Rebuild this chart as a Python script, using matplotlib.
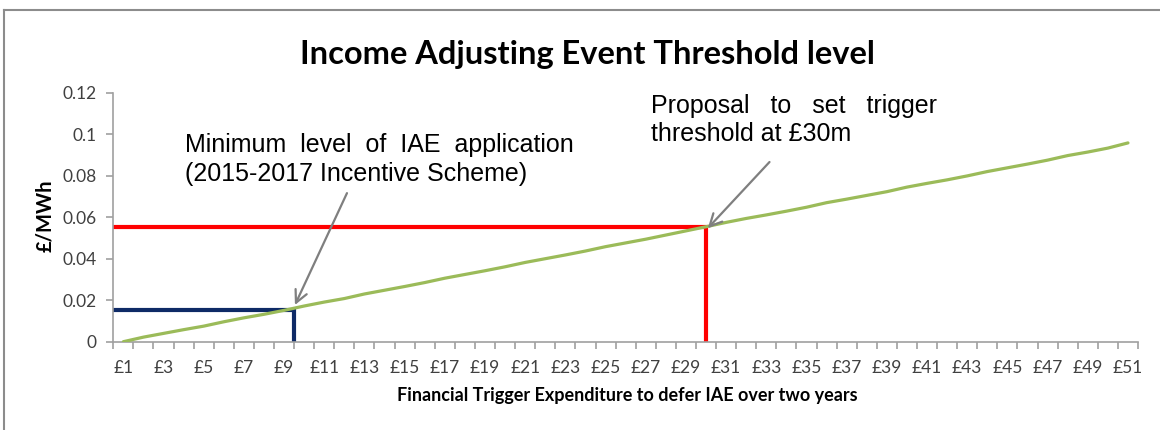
import matplotlib.pyplot as plt
from matplotlib.lines import Line2D

# categorias del eje x (£1 .. £51)
categorias = [f"£{i}" for i in range(1, 52)]
posiciones = list(range(1, 52))

# valores (£/MWh)
umbral = [0.0000, 0.0022, 0.0040, 0.0058, 0.0075, 0.0096, 0.0115, 0.0132, 0.0151, 0.0172,
          0.0191, 0.0208, 0.0230, 0.0248, 0.0266, 0.0285, 0.0306, 0.0324, 0.0342, 0.0361,
          0.0382, 0.0400, 0.0418, 0.0437, 0.0458, 0.0476, 0.0494, 0.0514, 0.0534, 0.0554,
          0.0575, 0.0594, 0.0611, 0.0629, 0.0648, 0.0670, 0.0687, 0.0705, 0.0723, 0.0745,
          0.0763, 0.0780, 0.0799, 0.0820, 0.0838, 0.0856, 0.0875, 0.0897, 0.0914, 0.0933,
          0.0958]

# niveles marcados: minimo (2015-2017) y propuesta £30m
nivel_min_x, nivel_min_y = 9.5, 0.0153
propuesta_x, propuesta_y = 30, 0.0554

y_ticks = [0, 0.02, 0.04, 0.06, 0.08, 0.1, 0.12]
y_labels = ["0", "0.02", "0.04", "0.06", "0.08", "0.1", "0.12"]

fig = plt.figure(figsize=(11.6, 4.3), dpi=100)
ax = fig.add_axes([113.3 / 1160, 88.3 / 430, (1138 - 113.3) / 1160, (341.7 - 92.7) / 430])

ax.plot(posiciones, umbral, color='#9BBB59', lw=2.3, solid_capstyle='round', zorder=3)

# lineas de referencia
ax.plot([0.5, nivel_min_x, nivel_min_x], [nivel_min_y, nivel_min_y, 0],
        color='#0E2A66', lw=3, solid_joinstyle='miter', zorder=2)
ax.plot([0.5, propuesta_x, propuesta_x], [propuesta_y, propuesta_y, 0],
        color='#FF0000', lw=3, solid_joinstyle='miter', zorder=2)

ax.set_xlim(0.5, 51.5)
ax.set_ylim(0, 0.12)

# ejes estilo Excel
for s in ['top', 'right']:
    ax.spines[s].set_visible(False)
for s in ['left', 'bottom']:
    ax.spines[s].set_color('#A0A0A0')
    ax.spines[s].set_linewidth(1.2)

ax.set_yticks(y_ticks)
ax.set_yticklabels(y_labels, fontsize=12.5, family='Lato', color='#404040')
ax.tick_params(axis='y', length=5, width=1.2, color='#A0A0A0', pad=7)

ax.set_xticks(posiciones[::2])
ax.set_xticklabels(categorias[::2], fontsize=12.5, family='Lato', color='#404040')
ax.set_xticks([p + 0.5 for p in range(0, 52)], minor=True)
ax.tick_params(axis='x', which='major', length=0, pad=13)
ax.tick_params(axis='x', which='minor', length=5, width=1.2, color='#A0A0A0')

# titulos
fig.text(587 / 1160, 1 - 63.7 / 430, 'Income Adjusting Event Threshold level',
         ha='center', va='baseline', fontsize=23.5, fontweight='bold', family='Lato')
fig.text(627 / 1160, 1 - 400.7 / 430, 'Financial Trigger Expenditure to defer IAE over two years',
         ha='center', va='baseline', fontsize=13, fontweight='bold', family='Lato')
fig.text(45 / 1160, 1 - 216 / 430, '£/MWh', rotation=90, ha='center', va='center',
         fontsize=14.5, fontweight='bold', family='Lato')

# anotaciones
fig.text(185 / 1160, 1 - 133 / 430, 'Minimum  level  of  IAE  application\n(2015-2017 Incentive Scheme)',
         ha='left', va='top', fontsize=18, family='Liberation Sans', linespacing=1.25)
fig.text(651 / 1160, 1 - 93.5 / 430, 'Proposal   to   set   trigger\nthreshold at £30m',
         ha='left', va='top', fontsize=18, family='Liberation Sans', linespacing=1.25)

flecha = dict(arrowstyle='->', color='#7F7F7F', lw=1.6, mutation_scale=22, shrinkA=0, shrinkB=0)
ax.annotate('', xy=(9.54, 0.0177), xytext=(12.13, 0.0716), arrowprops=flecha, annotation_clip=False)
ax.annotate('', xy=(30.09, 0.0547), xytext=(33.16, 0.0866), arrowprops=flecha, annotation_clip=False)

# marco del area del grafico
fig.add_artist(Line2D([4 / 1160, 4 / 1160], [0, 1 - 10 / 430], color='#8C8C8C', lw=1.5))
fig.add_artist(Line2D([4 / 1160, 1], [1 - 10 / 430, 1 - 10 / 430], color='#8C8C8C', lw=1.5))

fig.savefig('out.png', dpi=100)
